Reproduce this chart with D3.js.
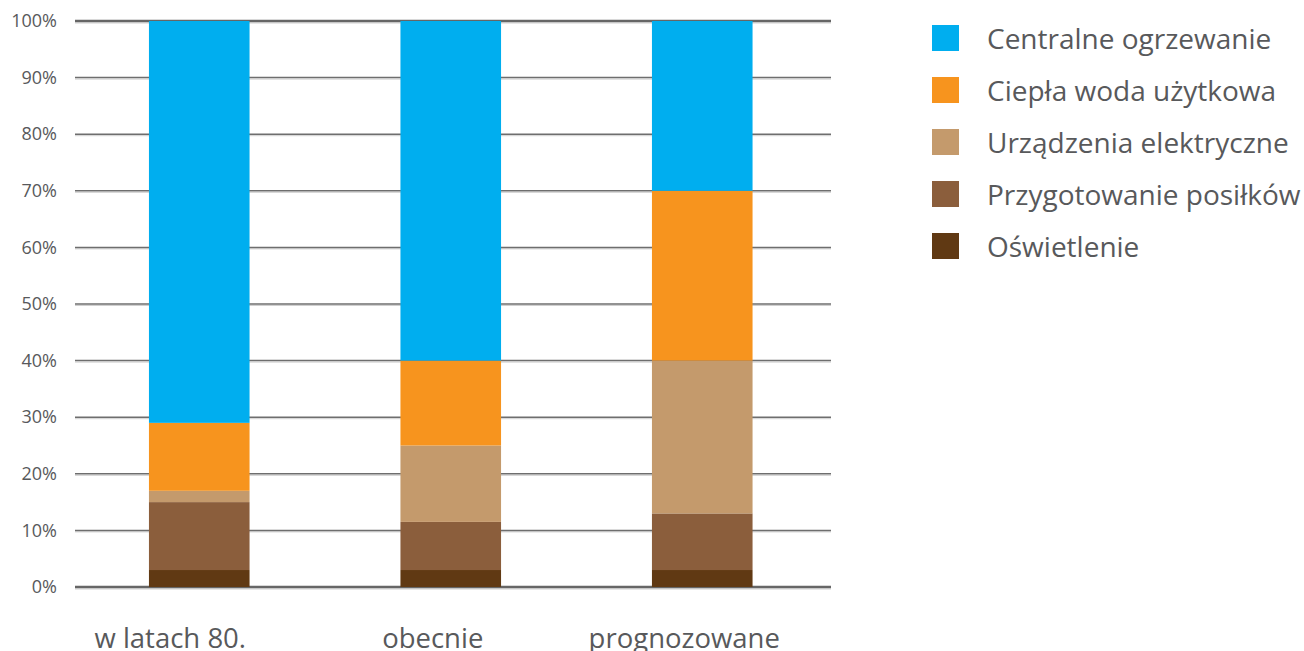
<!DOCTYPE html>
<html>
<head>
<meta charset="utf-8">
<script src="https://cdn.jsdelivr.net/npm/d3@7/dist/d3.min.js"></script>
<style>
  html, body { margin: 0; padding: 0; background: #fff; }
  svg { display: block; }
  text { font-family: "Open Sans", "Noto Sans", sans-serif; fill: #58595b; }
</style>
</head>
<body>
<svg id="chart" width="1304" height="651"></svg>
<script>
// Categories (periods) and energy-use shares in percent, bottom to top
const categories = ["w latach 80.", "obecnie", "prognozowane"];
const seriesNames = ["Oświetlenie", "Przygotowanie posiłków", "Urządzenia elektryczne", "Ciepła woda użytkowa", "Centralne ogrzewanie"];
const oswietlenie = [3, 3, 3];
const przygotowanie = [12, 8.5, 10];
const urzadzenia = [2, 13.5, 27];
const cieplaWoda = [12, 15, 30];
const centralne = [71, 60, 30];
const tickValues = [0, 10, 20, 30, 40, 50, 60, 70, 80, 90, 100];
const legendOrder = ["Centralne ogrzewanie", "Ciepła woda użytkowa", "Urządzenia elektryczne", "Przygotowanie posiłków", "Oświetlenie"];

const colors = {
  "Centralne ogrzewanie": "#00aeef",
  "Ciepła woda użytkowa": "#f7941e",
  "Urządzenia elektryczne": "#c49a6c",
  "Przygotowanie posiłków": "#8b5e3c",
  "Oświetlenie": "#603913"
};

const seriesValues = [oswietlenie, przygotowanie, urzadzenia, cieplaWoda, centralne];
const rows = categories.map((c, i) => {
  const r = { category: c };
  seriesNames.forEach((s, j) => r[s] = seriesValues[j][i]);
  return r;
});

const svg = d3.select("#chart");
const plot = { left: 75, right: 831, top: 21, bottom: 587 };

const x = d3.scaleBand()
  .domain(categories)
  .range([73.5, 828])
  .paddingInner(0.6)
  .paddingOuter(0.3);

const y = d3.scaleLinear().domain([0, 100]).range([plot.bottom, plot.top]);

// Gridlines: dark line with a faint light line beneath
const grid = svg.append("g");
tickValues.forEach(t => {
  const edge = (t === 0 || t === 100);
  grid.append("line")
    .attr("x1", plot.left).attr("x2", plot.right)
    .attr("y1", y(t) + (edge ? 2 : 1.5)).attr("y2", y(t) + (edge ? 2 : 1.5))
    .attr("stroke", "#cfcfcf").attr("stroke-width", 1);
  grid.append("line")
    .attr("x1", plot.left).attr("x2", plot.right)
    .attr("y1", y(t)).attr("y2", y(t))
    .attr("stroke", edge ? "#666" : "#6e6e6e")
    .attr("stroke-width", edge ? 2.5 : 1.5);
});

// Y axis labels
const yAxis = d3.axisLeft(y).tickValues(tickValues).tickFormat(d => d + "%").tickSize(0).tickPadding(18);
const ya = svg.append("g").attr("transform", `translate(${plot.left},0)`).call(yAxis);
ya.select(".domain").remove();
ya.selectAll("text")
  .attr("font-family", "'Open Sans', 'Noto Sans', sans-serif")
  .attr("font-size", 18)
  .attr("fill", "#58595b");

// Stacked bars
const stack = d3.stack().keys(seriesNames);
const layers = stack(rows);
svg.append("g").selectAll("g")
  .data(layers)
  .join("g")
  .attr("fill", d => colors[d.key])
  .selectAll("rect")
  .data(d => d)
  .join("rect")
  .attr("x", d => x(d.data.category))
  .attr("width", x.bandwidth())
  .attr("y", d => y(d[1]))
  .attr("height", d => y(d[0]) - y(d[1]));

// Category labels, set slightly left of each bar centre
const labelShift = [-29, -18, -18];
const xAxis = d3.axisBottom(x).tickSize(0).tickPadding(0);
const xa = svg.append("g").attr("transform", `translate(0,${plot.bottom + 61})`).call(xAxis);
xa.select(".domain").remove();
xa.selectAll("text")
  .attr("font-family", "'Open Sans', 'Noto Sans', sans-serif")
  .attr("font-size", 27.5)
  .attr("fill", "#58595b")
  .attr("y", 0)
  .attr("dy", 0)
  .attr("x", (d, i) => labelShift[i]);

// Legend
const legend = svg.append("g").attr("transform", "translate(932,25)");
const item = legend.selectAll("g")
  .data(legendOrder)
  .join("g")
  .attr("transform", (d, i) => `translate(0,${i * 52})`);
item.append("rect")
  .attr("width", 27).attr("height", 26)
  .attr("fill", d => colors[d]);
item.append("text")
  .attr("x", 55).attr("y", 14)
  .attr("dy", "0.36em")
  .attr("font-size", 28)
  .text(d => d);
</script>
</body>
</html>
